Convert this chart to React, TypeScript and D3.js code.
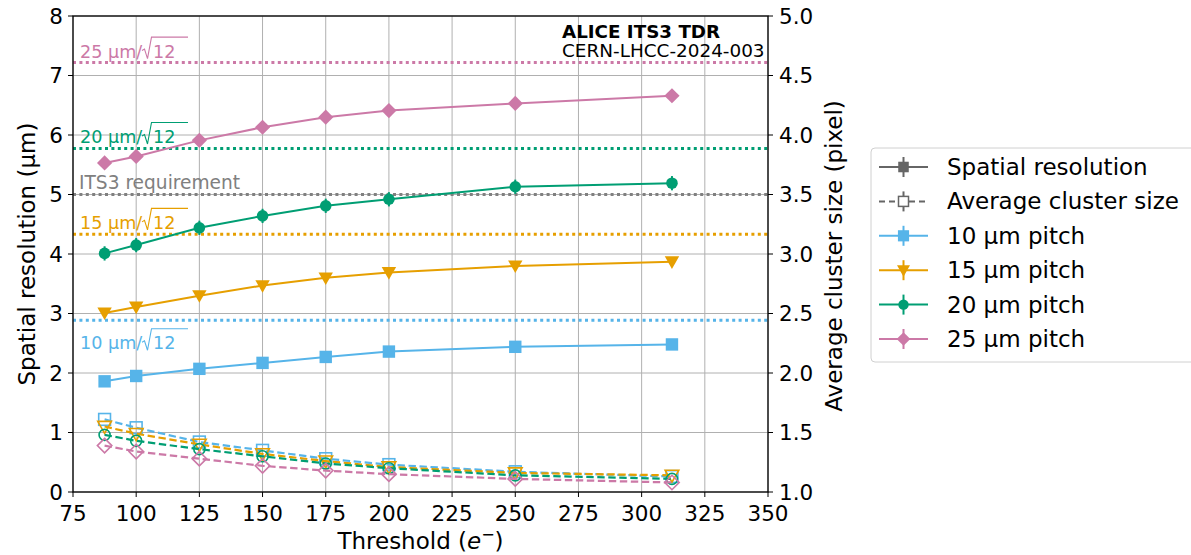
import React from 'react';
import * as d3 from 'd3';

// thresholds (e-)
const thresholds = [87.5, 100, 125, 150, 175, 200, 250, 312];
const pitches = [10, 15, 20, 25];
const pitchColors = ['#56B4E9', '#E69F00', '#009E73', '#CC79A7'];
const pitchSymbols = ['square', 'triangleDown', 'circle', 'diamond'];

// spatial resolution (um)
const res10 = [1.86, 1.95, 2.07, 2.17, 2.27, 2.36, 2.44, 2.48];
const res15 = [3.01, 3.11, 3.30, 3.47, 3.60, 3.69, 3.80, 3.87];
const res20 = [4.01, 4.15, 4.44, 4.64, 4.81, 4.92, 5.13, 5.19];
const res25 = [5.53, 5.64, 5.91, 6.13, 6.30, 6.41, 6.53, 6.66];
const resErr = [0.04, 0.04, 0.12, 0.09];

// average cluster size (pixel)
const cls10 = [1.61, 1.54, 1.42, 1.35, 1.28, 1.23, 1.17, 1.13];
const cls15 = [1.55, 1.49, 1.40, 1.32, 1.26, 1.21, 1.16, 1.14];
const cls20 = [1.48, 1.43, 1.36, 1.30, 1.24, 1.20, 1.14, 1.11];
const cls25 = [1.39, 1.34, 1.28, 1.22, 1.18, 1.15, 1.11, 1.08];

const xTicks = [75, 100, 125, 150, 175, 200, 225, 250, 275, 300, 325, 350];
const yTicks = [0, 1, 2, 3, 4, 5, 6, 7, 8];
const y2Ticks = [1.0, 1.5, 2.0, 2.5, 3.0, 3.5, 4.0, 4.5, 5.0];
const requirement = 5;

const legendLabels = ['Spatial resolution', 'Average cluster size', '10 µm pitch', '15 µm pitch', '20 µm pitch', '25 µm pitch'];

const W = 1191, H = 555;
const M = { left: 73, right: 768, top: 16, bottom: 492 };
const FONT = 'DejaVu Sans, sans-serif';
const TICK = 21.5;
const LABEL = 23;

const x = d3.scaleLinear().domain([75, 350]).range([M.left, M.right]);
const y = d3.scaleLinear().domain([0, 8]).range([M.bottom, M.top]);
const y2 = d3.scaleLinear().domain([1, 5]).range([M.bottom, M.top]);

const Marker = ({ kind, cx, cy, color, filled, s = 1 }: any) => {
  const fill = filled ? color : 'none';
  const sw = filled ? 0 : 1.6;
  if (kind === 'square') {
    const h = 6.2 * s;
    return <rect x={cx - h} y={cy - h} width={2 * h} height={2 * h} fill={fill} stroke={color} strokeWidth={sw} />;
  }
  if (kind === 'triangleDown') {
    const h = 7.2 * s;
    return <path d={`M${cx - h},${cy - h * 0.75}L${cx + h},${cy - h * 0.75}L${cx},${cy + h}Z`} fill={fill} stroke={color} strokeWidth={sw} />;
  }
  if (kind === 'circle') {
    return <circle cx={cx} cy={cy} r={5.8 * s} fill={fill} stroke={color} strokeWidth={sw} />;
  }
  const h = 7.6 * s;
  return <path d={`M${cx},${cy - h}L${cx + h},${cy}L${cx},${cy + h}L${cx - h},${cy}Z`} fill={fill} stroke={color} strokeWidth={sw} />;
};

// "NN µm/√12" mathtext-like label: one text, radical drawn as a path
const PitchLabel = ({ p, base, color }: any) => (
  <g>
    <text x={80} y={base} fontSize={17.6} fill={color}>{p} µm/<tspan x={153}>12</tspan></text>
    <path d={`M142,${base - 7}L144.5,${base - 8.5}L147.5,${base + 1}L151.5,${base - 20.5}L188,${base - 20.5}`} fill="none" stroke={color} strokeWidth={1.1} />
  </g>
);

export default function App() {
  const resAll = [res10, res15, res20, res25];
  const clsAll = [cls10, cls15, cls20, cls25];
  const line = d3.line<[number, number]>();

  const sqrt12 = (p: number) => p / Math.sqrt(12);
  const labelY = [y(sqrt12(10)) + 29, y(sqrt12(15)) - 5.5, y(sqrt12(20)) - 5.5, y(sqrt12(25)) - 5];

  const legendRows = [0, 1, 2, 3, 4, 5].map(i => 167 + i * 34.4);
  const dots = '3 3.4';

  return (
    <svg width={W} height={H} style={{ position: 'absolute', left: 0, top: 0, background: '#fff' }} fontFamily={FONT}>
      {/* grid */}
      {xTicks.map(t => <line key={'gx' + t} x1={x(t)} x2={x(t)} y1={M.top} y2={M.bottom} stroke="#b0b0b0" strokeWidth={1} />)}
      {yTicks.map(t => <line key={'gy' + t} x1={M.left} x2={M.right} y1={y(t)} y2={y(t)} stroke="#b0b0b0" strokeWidth={1} />)}

      {/* pitch / sqrt(12) lines */}
      {pitches.map((p, i) => (
        <g key={'pl' + p}>
          <line x1={M.left} x2={M.right} y1={y(sqrt12(p))} y2={y(sqrt12(p))} stroke={pitchColors[i]} strokeWidth={3} strokeDasharray={dots} />
          <PitchLabel p={p} base={labelY[i]} color={pitchColors[i]} />
        </g>
      ))}
      <line x1={M.left} x2={M.right} y1={y(requirement)} y2={y(requirement)} stroke="#808080" strokeWidth={3} strokeDasharray={dots} />
      <text x={79} y={y(requirement) - 5.5} fontSize={18.6} fill="#808080">ITS3 requirement</text>

      {/* cluster size, dashed open */}
      {clsAll.map((vals, i) => (
        <g key={'cls' + i}>
          <path d={line(vals.map((v, j) => [x(thresholds[j]), y2(v)]))!} fill="none" stroke={pitchColors[i]} strokeWidth={2.2} strokeDasharray="7.4 3.6" />
          {vals.map((v, j) => <Marker key={j} kind={pitchSymbols[i]} cx={x(thresholds[j])} cy={y2(v)} color={pitchColors[i]} filled={false} s={0.95} />)}
        </g>
      ))}

      {/* spatial resolution, solid filled */}
      {resAll.map((vals, i) => (
        <g key={'res' + i}>
          <path d={line(vals.map((v, j) => [x(thresholds[j]), y(v)]))!} fill="none" stroke={pitchColors[i]} strokeWidth={2} />
          {vals.map((v, j) => (
            <g key={j}>
              <line x1={x(thresholds[j])} x2={x(thresholds[j])} y1={y(v - resErr[i])} y2={y(v + resErr[i])} stroke={pitchColors[i]} strokeWidth={2} />
              <Marker kind={pitchSymbols[i]} cx={x(thresholds[j])} cy={y(v)} color={pitchColors[i]} filled={true} />
            </g>
          ))}
        </g>
      ))}

      {/* frame */}
      <rect x={M.left} y={M.top} width={M.right - M.left} height={M.bottom - M.top} fill="none" stroke="#000" strokeWidth={1.3} />

      {/* x axis */}
      {xTicks.map(t => (
        <g key={'xt' + t}>
          <line x1={x(t)} x2={x(t)} y1={M.bottom} y2={M.bottom + 5} stroke="#000" />
          <text x={x(t)} y={M.bottom + 29} fontSize={TICK} textAnchor="middle">{t}</text>
        </g>
      ))}
      <text x={(M.left + M.right) / 2} y={549} fontSize={LABEL} textAnchor="middle">
        Threshold (<tspan fontStyle="italic">e</tspan><tspan dy={-9} fontSize={16}>−</tspan><tspan dy={9}>)</tspan>
      </text>

      {/* left y axis */}
      {yTicks.map(t => (
        <g key={'yt' + t}>
          <line x1={M.left - 5} x2={M.left} y1={y(t)} y2={y(t)} stroke="#000" />
          <text x={M.left - 10} y={y(t) + 7.8} fontSize={TICK} textAnchor="end">{t}</text>
        </g>
      ))}
      <text transform={`translate(35,${(M.top + M.bottom) / 2}) rotate(-90)`} fontSize={LABEL} textAnchor="middle">Spatial resolution (µm)</text>

      {/* right y axis */}
      {y2Ticks.map(t => (
        <g key={'y2t' + t}>
          <line x1={M.right} x2={M.right + 5} y1={y2(t)} y2={y2(t)} stroke="#000" />
          <text x={M.right + 11} y={y2(t) + 7.8} fontSize={TICK}>{t.toFixed(1)}</text>
        </g>
      ))}
      <text transform={`translate(842,${(M.top + M.bottom) / 2 + 2}) rotate(-90)`} fontSize={LABEL} textAnchor="middle">Average cluster size (pixel)</text>

      {/* ALICE label */}
      <text x={562} y={38} fontSize={18.3} fontWeight="bold">ALICE ITS3 TDR</text>
      <text x={562} y={57} fontSize={18.4}>CERN-LHCC-2024-003</text>

      {/* legend */}
      <rect x={871} y={148} width={325} height={214} rx={4} fill="#fff" stroke="#d0d0d0" strokeWidth={1} />
      {legendLabels.map((lab, i) => {
        const cy = legendRows[i];
        const color = i < 2 ? '#666' : pitchColors[i - 2];
        const dashed = i === 1;
        return (
          <g key={'lg' + i}>
            <line x1={879} x2={928} y1={cy} y2={cy} stroke={color} strokeWidth={2} strokeDasharray={dashed ? '6 4' : undefined} />
            <line x1={903.5} x2={903.5} y1={cy - 10} y2={cy + 10} stroke={color} strokeWidth={2} />
            {i === 0 && <Marker kind="square" cx={903.5} cy={cy} color={color} filled={true} s={0.85} />}
            {i === 1 && <rect x={898.5} y={cy - 5} width={10} height={10} fill="#fff" stroke={color} strokeWidth={1.5} />}
            {i > 1 && <Marker kind={pitchSymbols[i - 2]} cx={903.5} cy={cy} color={color} filled={true} s={0.9} />}
            <text x={947} y={cy + 8} fontSize={LABEL}>{lab}</text>
          </g>
        );
      })}
    </svg>
  );
}
